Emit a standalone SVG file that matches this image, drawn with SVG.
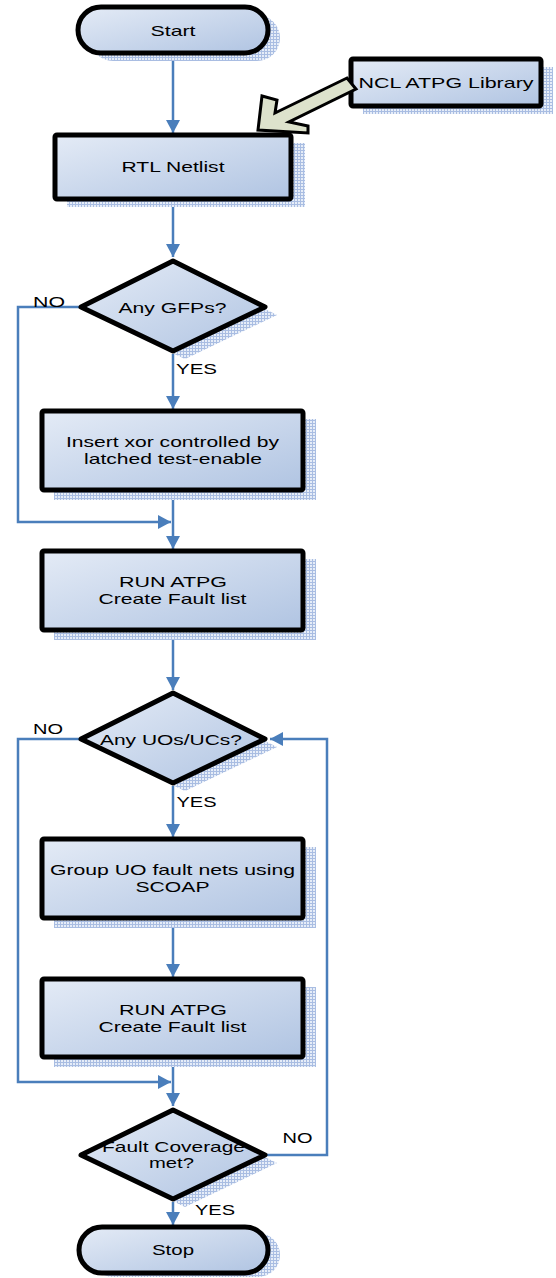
<svg xmlns="http://www.w3.org/2000/svg" width="556" height="1278" viewBox="0 0 556 1278">
<defs>
  <linearGradient id="fill" x1="0" y1="0" x2="1" y2="1">
    <stop offset="0" stop-color="#e4ebf6"/>
    <stop offset="1" stop-color="#b0c4e2"/>
  </linearGradient>
  <pattern id="shade" width="3" height="3" patternUnits="userSpaceOnUse">
    <rect width="3" height="3" fill="#e6edf8"/>
    <rect width="3" height="1" fill="#a9bde2"/>
    <rect width="1" height="3" fill="#a9bde2"/>
  </pattern>
  <marker id="arr" markerUnits="userSpaceOnUse" markerWidth="14" markerHeight="14" refX="13" refY="7" orient="auto">
    <path d="M0,0 L13,7 L0,14 z" fill="#4a7ebb"/>
  </marker>
</defs>
<style>
  .sh { fill: url(#shade); stroke: none; }
  .nd { fill: url(#fill); stroke: #000; stroke-width: 5; stroke-linejoin: round; }
  .tx { font-family: "Liberation Sans", Arial, sans-serif; font-size: 15px; fill: #000; text-anchor: middle; }
  .lb { font-family: "Liberation Sans", Arial, sans-serif; font-size: 15px; fill: #000; }
  .cn { fill: none; stroke: #4a7ebb; stroke-width: 2.5; }
  .cn .a { marker-end: url(#arr); }
</style>

<g id="connectors" class="cn">
  <path class="a" d="M173,55 V133"/>
  <path class="a" d="M173,201 V257"/>
  <path class="a" d="M173,354 V409"/>
  <path class="a" d="M79,307 H18 V522 H171"/>
  <path class="a" d="M173,492 V549"/>
  <path class="a" d="M173,632 V690"/>
  <path class="a" d="M173,786 V837"/>
  <path class="a" d="M79,739 H18 V1082 H171"/>
  <path class="a" d="M173,920 V977"/>
  <path class="a" d="M173,1060 V1106"/>
  <path class="a" d="M173,1202 V1225"/>
  <path class="a" d="M267,1155 H327 V739 H270"/>
</g>

<g id="start">
  <rect class="sh" x="90" y="15" width="190" height="46" rx="23"/>
  <rect class="nd" x="78" y="7" width="190" height="46" rx="23"/>
  <text class="tx" x="173" y="36" textLength="45" lengthAdjust="spacingAndGlyphs">Start</text>
</g>

<g id="ncl">
  <rect class="sh" x="363" y="67" width="190" height="47"/>
  <rect class="nd" x="351" y="59" width="190" height="47" rx="2"/>
  <text class="tx" x="446" y="88" textLength="175" lengthAdjust="spacingAndGlyphs">NCL ATPG Library</text>
</g>

<g id="lib-arrow">
  <polygon points="258,130 262,96 277,100 275,113 347,78 356,89 289,122 308,126 308,133" fill="#dde2cc" stroke="#000" stroke-width="3" stroke-linejoin="miter"/>
</g>

<g id="rtl">
  <rect class="sh" x="67" y="143" width="238" height="64"/>
  <rect class="nd" x="55" y="135" width="236" height="64" rx="2"/>
  <text class="tx" x="173" y="172" textLength="103" lengthAdjust="spacingAndGlyphs">RTL Netlist</text>
</g>

<g id="gfps">
  <polygon class="sh" points="185,269 277,315 185,359 93,315"/>
  <polygon class="nd" points="173,261 265,307 173,351 81,307"/>
  <text class="tx" x="172.5" y="313" textLength="108" lengthAdjust="spacingAndGlyphs">Any GFPs?</text>
</g>

<g id="insert">
  <rect class="sh" x="54" y="419" width="262" height="81"/>
  <rect class="nd" x="42" y="411" width="261" height="79" rx="2"/>
  <text class="tx" x="172.5" y="446.5" textLength="213" lengthAdjust="spacingAndGlyphs">Insert xor controlled by</text>
  <text class="tx" x="173" y="463.5" textLength="178" lengthAdjust="spacingAndGlyphs">latched test-enable</text>
</g>

<g id="run1">
  <rect class="sh" x="54" y="559" width="262" height="81"/>
  <rect class="nd" x="42" y="551" width="261" height="79" rx="2"/>
  <text class="tx" x="173" y="586.5" textLength="108" lengthAdjust="spacingAndGlyphs">RUN ATPG</text>
  <text class="tx" x="172.5" y="603.5" textLength="148" lengthAdjust="spacingAndGlyphs">Create Fault list</text>
</g>

<g id="uos">
  <polygon class="sh" points="185,701 277,747 185,791 93,747"/>
  <polygon class="nd" points="173,693 265,739 173,783 81,739"/>
  <text class="tx" x="171" y="745" textLength="142" lengthAdjust="spacingAndGlyphs">Any UOs/UCs?</text>
</g>

<g id="group">
  <rect class="sh" x="54" y="847" width="262" height="81"/>
  <rect class="nd" x="42" y="839" width="261" height="79" rx="2"/>
  <text class="tx" x="172.5" y="875" textLength="245" lengthAdjust="spacingAndGlyphs">Group UO fault nets using</text>
  <text class="tx" x="172.5" y="892" textLength="74" lengthAdjust="spacingAndGlyphs">SCOAP</text>
</g>

<g id="run2">
  <rect class="sh" x="54" y="987" width="262" height="80"/>
  <rect class="nd" x="42" y="979" width="261" height="78" rx="2"/>
  <text class="tx" x="173" y="1014.5" textLength="108" lengthAdjust="spacingAndGlyphs">RUN ATPG</text>
  <text class="tx" x="172.5" y="1031.5" textLength="148" lengthAdjust="spacingAndGlyphs">Create Fault list</text>
</g>

<g id="coverage">
  <polygon class="sh" points="185,1118 277,1163 185,1207 93,1163"/>
  <polygon class="nd" points="173,1110 265,1155 173,1199 81,1155"/>
  <text class="tx" x="173.5" y="1151.5" textLength="143" lengthAdjust="spacingAndGlyphs">Fault Coverage</text>
  <text class="tx" x="171.5" y="1167.5" textLength="45" lengthAdjust="spacingAndGlyphs">met?</text>
</g>

<g id="stop">
  <rect class="sh" x="91" y="1233" width="189" height="44" rx="22"/>
  <rect class="nd" x="79" y="1227" width="189" height="46" rx="23"/>
  <text class="tx" x="173" y="1255" textLength="42" lengthAdjust="spacingAndGlyphs">Stop</text>
</g>

<g id="labels">
  <text class="lb" x="33" y="306.5" textLength="32" lengthAdjust="spacingAndGlyphs">NO</text>
  <text class="lb" x="176" y="374" textLength="41" lengthAdjust="spacingAndGlyphs">YES</text>
  <text class="lb" x="33" y="734" textLength="30" lengthAdjust="spacingAndGlyphs">NO</text>
  <text class="lb" x="176.5" y="806.5" textLength="40" lengthAdjust="spacingAndGlyphs">YES</text>
  <text class="lb" x="282.5" y="1142.5" textLength="30" lengthAdjust="spacingAndGlyphs">NO</text>
  <text class="lb" x="195" y="1215" textLength="40" lengthAdjust="spacingAndGlyphs">YES</text>
</g>
</svg>
